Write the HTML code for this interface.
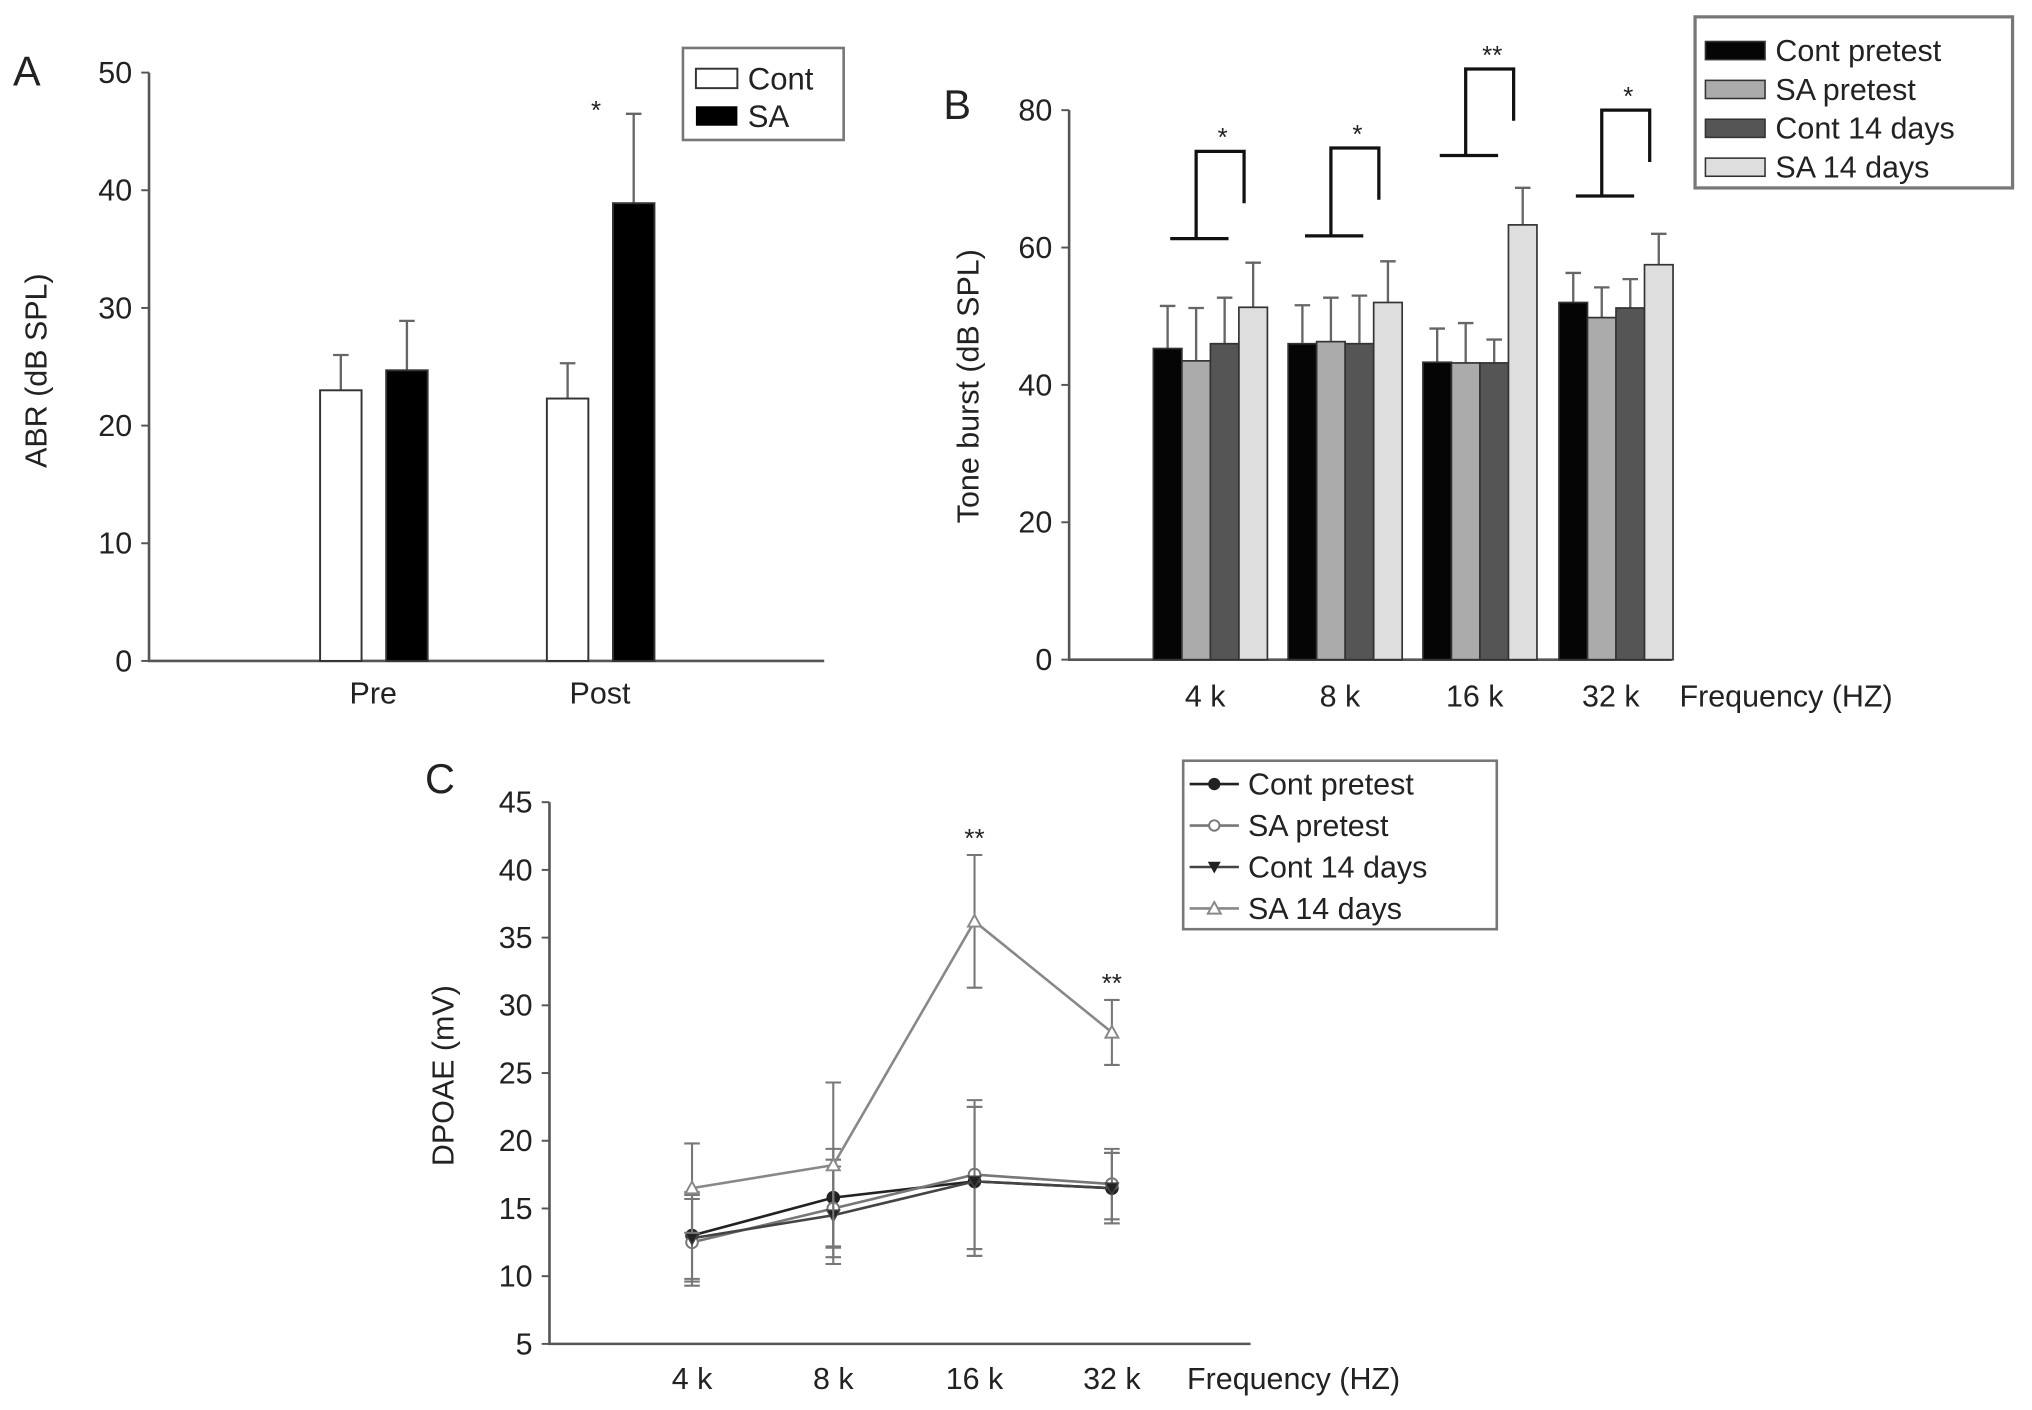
<!DOCTYPE html>
<html><head><meta charset="utf-8"><style>
html,body{margin:0;padding:0;background:#fff}
svg{display:block}
text{font-family:"Liberation Sans",sans-serif;fill:#222}
</style></head><body>
<svg id="fig" width="2032" height="1410" viewBox="0 0 1568 1088" xmlns="http://www.w3.org/2000/svg">
<g id="pa"></g>
<g id="pb"></g>
<g id="pc"></g>
</svg>
<script>
// Panel A data
const aCats = ["Pre","Post"];
const aCont = [23.0, 22.3];
const aContErr = [3.0, 3.0];
const aSA = [24.7, 38.9];
const aSAErr = [4.2, 7.6];
const aTicks = [0,10,20,30,40,50];
// Panel B data
const bCats = ["4 k","8 k","16 k","32 k"];
const bContPre = [45.3, 46.0, 43.3, 52.0];
const bContPreErr = [6.2, 5.6, 4.9, 4.3];
const bSAPre = [43.5, 46.3, 43.2, 49.8];
const bSAPreErr = [7.7, 6.4, 5.8, 4.4];
const bCont14 = [46.0, 46.0, 43.2, 51.2];
const bCont14Err = [6.7, 7.0, 3.4, 4.2];
const bSA14 = [51.3, 52.0, 63.3, 57.5];
const bSA14Err = [6.5, 6.0, 5.4, 4.5];
const bStars = ["*","*","**","*"];
const bBracketBase = [61.3, 61.7, 73.4, 67.5];
const bBracketTop = [74.0, 74.5, 86.0, 80.0];
const bTicks = [0,20,40,60,80];
// Panel C data
const cCats = ["4 k","8 k","16 k","32 k"];
const cContPre = [13.0, 15.8, 17.0, 16.5];
const cSAPre = [12.5, 15.0, 17.5, 16.8];
const cCont14 = [12.8, 14.5, 17.0, 16.5];
const cSA14 = [16.5, 18.2, 36.2, 28.0];
const cErr = [3.2, 3.6, 5.5, 2.6];
const cSA14Err = [3.3, 6.1, 4.9, 2.4];
const cTicks = [5,10,15,20,25,30,35,40,45];

const NS="http://www.w3.org/2000/svg";
const FS=23.5;
function mk(parent,tag,attrs,txt){const e=document.createElementNS(NS,tag);for(const k in attrs)e.setAttribute(k,attrs[k]);if(txt!==undefined)e.textContent=txt;parent.appendChild(e);return e;}

// ---------- Panel A ----------
(function(){
const g=document.getElementById('pa');
const y=v=>510-v*9.08;
const xs=[288,463];
let t=mk(g,'text',{x:10,y:66,'font-size':32});t.textContent='A';


aTicks.forEach(v=>{
 const l=mk(g,'line',{x1:109,x2:115,y1:y(v),y2:y(v),stroke:'#555','stroke-width':1.5});
 
 
 const tx=mk(g,'text',{x:102,y:y(v)+8,'font-size':FS,'text-anchor':'end'},v);
 
 
});
const ax=mk(g,'path',{d:'M115 56 V510 H636',fill:'none',stroke:'#555','stroke-width':2});


const yt=mk(g,'text',{transform:'translate(36,286) rotate(-90)','font-size':FS,'text-anchor':'middle'},'ABR (dB SPL)');


aCats.forEach((c,i)=>{
 const cx=xs[i];
 [[aCont,aContErr,'#fff',-41],[aSA,aSAErr,'#000',10]].forEach(([vals,errs,fill,off])=>{
  const x0=cx+off,w=32;
  const e=mk(g,'path',{d:`M${x0+w/2} ${y(vals[i])} V${y(vals[i]+errs[i])} M${x0+w/2-6} ${y(vals[i]+errs[i])} H${x0+w/2+6}`,stroke:'#666','stroke-width':1.8,fill:'none'});
  
  
  const r=mk(g,'rect',{x:x0,y:y(vals[i]),width:w,height:y(0)-y(vals[i]),fill:fill,stroke:'#333','stroke-width':1.5});
  
  
 });
 const lb=mk(g,'text',{x:cx,y:543,'font-size':FS,'text-anchor':'middle'},c);
 
 
});
const st=mk(g,'text',{x:460,y:92,'font-size':20,'text-anchor':'middle'},'*');


const lg=mk(g,'g',{});


mk(lg,'rect',{x:527,y:37,width:124,height:71,fill:'#fff',stroke:'#777','stroke-width':2});
mk(lg,'rect',{x:537,y:53,width:32,height:15,fill:'#fff',stroke:'#333','stroke-width':1.5});
mk(lg,'text',{x:577,y:69,'font-size':24},'Cont');
mk(lg,'rect',{x:537,y:82,width:32,height:15,fill:'#000'});
mk(lg,'text',{x:577,y:98,'font-size':24},'SA');
})();

// ---------- Panel B ----------
(function(){
const g=document.getElementById('pb');
const y=v=>509-v*5.3;
const starts=[890,994,1098,1203];
const bw=22;
const t=mk(g,'text',{x:728,y:92,'font-size':32},'B');


bTicks.forEach(v=>{
 const l=mk(g,'line',{x1:819,x2:825,y1:y(v),y2:y(v),stroke:'#555','stroke-width':1.5});
 
 
 const tx=mk(g,'text',{x:812,y:y(v)+8,'font-size':FS,'text-anchor':'end'},v);
 
 
});
const ax=mk(g,'path',{d:'M825 85 V509 H1290',fill:'none',stroke:'#555','stroke-width':2});


const yt=mk(g,'text',{transform:'translate(755,298) rotate(-90)','font-size':FS,'text-anchor':'middle'},'Tone burst (dB SPL)');


const series=[[bContPre,bContPreErr,'#050505'],[bSAPre,bSAPreErr,'#ababab'],[bCont14,bCont14Err,'#555'],[bSA14,bSA14Err,'#dedede']];
const names=['cont-pretest','sa-pretest','cont-14-days','sa-14-days'];
bCats.forEach((c,i)=>{
 series.forEach(([vals,errs,fill],s)=>{
  const x0=starts[i]+s*bw, xc=x0+bw/2;
  const e=mk(g,'path',{d:`M${xc} ${y(vals[i])} V${y(vals[i]+errs[i])} M${xc-6} ${y(vals[i]+errs[i])} H${xc+6}`,stroke:'#666','stroke-width':1.8,fill:'none'});
  
  
  const r=mk(g,'rect',{x:x0,y:y(vals[i]),width:bw,height:y(0)-y(vals[i]),fill:fill,stroke:'#333','stroke-width':1.3});
  
  
 });
 const mid=starts[i]+44;
 const lb=mk(g,'text',{x:mid-4,y:545,'font-size':FS,'text-anchor':'middle'},c);
 
 
 const yb=y(bBracketBase[i]), yt2=y(bBracketTop[i]), xl=starts[i]+33, xr=starts[i]+70;
 const br=mk(g,'path',{d:`M${starts[i]+13} ${yb} H${starts[i]+58} M${xl} ${yb} V${yt2} H${xr} V${yt2+40}`,fill:'none',stroke:'#111','stroke-width':2.5});
 
 
 const st=mk(g,'text',{x:(xl+xr)/2+2,y:yt2-4,'font-size':20,'text-anchor':'middle'},bStars[i]);
 
 
});
const xt=mk(g,'text',{x:1296,y:545,'font-size':FS},'Frequency (HZ)');


const lg=mk(g,'g',{});


mk(lg,'rect',{x:1308,y:13,width:245,height:132,fill:'#fff',stroke:'#777','stroke-width':2.5});
const lab=['Cont pretest','SA pretest','Cont 14 days','SA 14 days'];
lab.forEach((l,k)=>{
 mk(lg,'rect',{x:1316,y:32+k*30,width:46,height:14,fill:series[k][2],stroke:'#333','stroke-width':1.2});
 mk(lg,'text',{x:1370,y:47+k*30,'font-size':FS},l);
});
})();

// ---------- Panel C ----------
(function(){
const g=document.getElementById('pc');
const y=v=>1037-(v-5)*10.45;
const xs=[534,643,752,858];
const t=mk(g,'text',{x:328,y:612,'font-size':32},'C');


cTicks.forEach(v=>{
 const l=mk(g,'line',{x1:418,x2:424,y1:y(v),y2:y(v),stroke:'#555','stroke-width':1.5});
 
 
 const tx=mk(g,'text',{x:411,y:y(v)+8,'font-size':FS,'text-anchor':'end'},v);
 
 
});
const ax=mk(g,'path',{d:'M424 619 V1037 H965',fill:'none',stroke:'#555','stroke-width':2});


const yt=mk(g,'text',{transform:'translate(350,830) rotate(-90)','font-size':FS,'text-anchor':'middle'},'DPOAE (mV)');


cCats.forEach((c,i)=>{
 const lb=mk(g,'text',{x:xs[i],y:1072,'font-size':FS,'text-anchor':'middle'},c);
 
 
});
const xt=mk(g,'text',{x:916,y:1072,'font-size':FS},'Frequency (HZ)');


const series=[[cContPre,cErr,'#222','circle','#222','cont-pretest'],[cSAPre,cErr,'#777','circle','#fff','sa-pretest'],[cCont14,cErr,'#444','tri-down','#222','cont-14-days'],[cSA14,cSA14Err,'#888','tri-up','#fff','sa-14-days']];
series.forEach(([vals,errs,col,mark,fill,nm])=>{
 const sg=mk(g,'g',{});
 
 
 vals.forEach((v,i)=>{
  const e=mk(sg,'path',{d:`M${xs[i]} ${y(v-errs[i])} V${y(v+errs[i])} M${xs[i]-6} ${y(v-errs[i])} H${xs[i]+6} M${xs[i]-6} ${y(v+errs[i])} H${xs[i]+6}`,stroke:'#777','stroke-width':1.6,fill:'none'});
  
  
 });
 const ln=mk(sg,'polyline',{points:vals.map((v,i)=>xs[i]+','+y(v)).join(' '),fill:'none',stroke:col,'stroke-width':2});
 
 
 vals.forEach((v,i)=>{
  let m;
  if(mark=='circle') m=mk(sg,'circle',{cx:xs[i],cy:y(v),r:4.5,fill:fill,stroke:col,'stroke-width':1.5});
  else if(mark=='tri-down') m=mk(sg,'path',{d:`M${xs[i]-5} ${y(v)-4} H${xs[i]+5} L${xs[i]} ${y(v)+5}Z`,fill:fill,stroke:col});
  else m=mk(sg,'path',{d:`M${xs[i]-5} ${y(v)+4} H${xs[i]+5} L${xs[i]} ${y(v)-5}Z`,fill:fill,stroke:col,'stroke-width':1.5});
  
  
 });
});
[2,3].forEach(i=>{
 const st=mk(g,'text',{x:xs[i],y:y(cSA14[i]+cSA14Err[i])-6,'font-size':20,'text-anchor':'middle'},'**');
 
 
});
const lg=mk(g,'g',{});


mk(lg,'rect',{x:913,y:587,width:242,height:130,fill:'#fff',stroke:'#777','stroke-width':2});
const lab=['Cont pretest','SA pretest','Cont 14 days','SA 14 days'];
lab.forEach((l,k)=>{
 const yy=605+k*32;
 mk(lg,'line',{x1:918,x2:956,y1:yy,y2:yy,stroke:series[k][2],'stroke-width':2});
 if(k<2) mk(lg,'circle',{cx:937,cy:yy,r:4,fill:series[k][4],stroke:series[k][2],'stroke-width':1.5});
 else if(k==2) mk(lg,'path',{d:`M932 ${yy-4} H942 L937 ${yy+5}Z`,fill:'#222'});
 else mk(lg,'path',{d:`M932 ${yy+4} H942 L937 ${yy-5}Z`,fill:'#fff',stroke:'#888','stroke-width':1.5});
 mk(lg,'text',{x:963,y:yy+8,'font-size':FS},l);
});
})();
</script>
</body></html>
